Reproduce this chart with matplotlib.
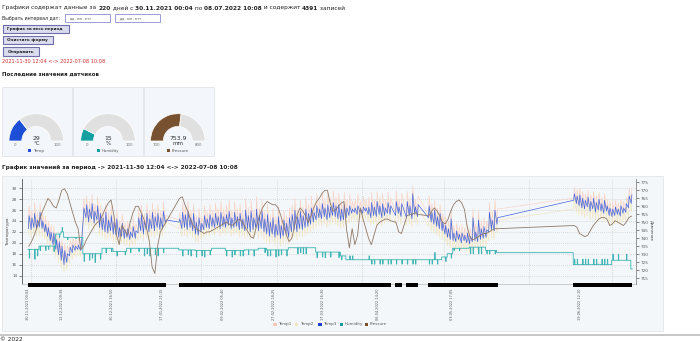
import numpy as np
import matplotlib
matplotlib.use("Agg")
import matplotlib.pyplot as plt
from matplotlib.patches import Rectangle, Wedge
from datetime import datetime

plt.rcParams['font.family'] = ['DejaVu Sans']

# ---------------------------------------------------------------- data
start_time = datetime(2021, 11, 30, 0, 4)
n_days_total = 220
n_records = 4391
first_label = "30.11.2021 00:04"
last_label = "08.07.2022 10:08"
period_label = "2021-11-30 12:04 <-> 2022-07-08 10:08"

# days (offset from the first record) for which readings exist
day_ranges = [(0, 51), (55, 125), (125, 133), (134, 137), (138, 143), (146, 172), (199, 221)]
days = np.concatenate([np.arange(a, b) for a, b in day_ranges]).astype(float)

# Temp3: daily low / high
t3_lo = [22.6,22.4,22.8,22.5,22.9,22.6,22.0,21.2,20.4,19.6,18.8,17.8,16.8,16.0,16.4,17.6,18.2,18.6,18.8,18.6,
         24.2,24.6,23.8,24.4,23.6,24.2,22.8,22.4,22.0,21.8,22.2,21.6,21.4,21.0,21.2,20.8,21.0,20.6,21.0,20.8,
         21.8,22.2,21.6,22.4,22.0,22.6,22.2,22.8,22.4,22.6,23.6,
         23.8,22.6,22.8,22.4,22.8,22.2,21.6,21.4,22.0,22.4, 22.8,22.6,23.0,22.8,23.2,22.6,23.0,22.8,23.2,22.6,
         22.8,23.0,22.4,22.6,22.2,22.6,22.0,22.4,22.8,22.2, 22.6,22.0,21.6,21.2,21.6,21.0,21.4,20.8,21.2,21.6,
         21.0,22.0,22.4,22.0,22.6,22.4,22.8,23.0,23.4,23.8, 24.2,24.6,24.4,24.8,24.2,24.6,25.0,24.8,24.4,24.0,
         24.2,24.6,25.0,25.4,25.6,25.2,25.6,25.4,25.8,25.2,
         24.6,25.0,24.8,25.2,24.6,25.0,25.4,25.2, 25.0,25.4,24.8, 24.6,25.0,24.4,25.2,24.8,
         24.6,23.8,23.4,23.0,22.6,22.2,21.6,21.0,20.6,20.4, 20.2,20.6,20.0,20.4,20.0,19.8,20.2,20.4,20.2,20.6,
         20.8,21.0,22.0,22.4,22.2,23.4,
         27.8,27.2,26.8,26.4,26.2,26.6,25.8,26.2,25.6,26.0, 25.8,25.4,25.8,25.0,24.8,25.0,25.2,24.9,25.4,25.6,
         26.4,27.2]
t3_hi = [25.0,24.6,25.4,24.2,25.6,24.0,23.4,22.8,22.0,21.8,20.6,20.2,19.4,18.6,18.0,19.2,19.6,19.4,19.6,19.2,
         26.4,27.0,26.2,27.2,25.8,26.8,25.4,24.6,25.6,24.2,25.0,23.8,24.4,22.8,23.6,22.4,22.6,22.0,23.0,22.2,
         24.6,25.2,24.0,25.4,24.4,25.6,24.8,25.4,24.6,25.8,24.2,
         24.4,25.6,25.2,25.8,24.6,25.4,23.8,24.6,23.6,25.0, 24.4,25.2,24.6,25.4,24.8,25.6,24.8,25.2,25.8,24.6,
         25.6,24.8,25.4,24.4,26.0,25.0,25.8,24.6,26.2,25.0, 25.8,24.4,25.2,23.8,24.6,23.4,24.8,23.2,24.2,23.6,
         24.6,25.2,26.0,24.8,25.8,25.0,26.2,25.4,26.4,25.6, 26.8,26.2,27.2,26.4,27.0,26.6,27.4,26.8,27.0,26.2,
         27.0,26.4,26.8,26.2,26.4,26.8,26.2,26.6,26.4,26.6,
         27.4,26.6,27.6,26.8,27.2,26.4,27.4,26.8, 27.6,26.6,27.2, 27.6,26.8,29.0,26.6,27.0,
         26.8,25.6,26.0,24.8,25.4,23.8,23.2,22.6,24.4,21.8, 22.2,21.6,21.8,21.4,21.8,21.2,24.6,22.0,24.2,22.6,
         23.0,22.4,25.6,24.2,26.0,24.6,
         29.0,28.6,28.8,28.2,27.8,28.4,27.6,28.2,27.4,28.0, 27.2,27.8,26.8,26.4,26.2,26.6,26.2,26.8,26.4,27.2,
         28.6,28.8]

# Temp1: daily low / high
t1_lo = [23.0,22.9,23.1,23.0,23.2,23.0,22.5,21.6,20.9,20.0,19.3,18.2,17.3,16.5,16.9,18.0,18.7,19.0,19.3,19.0,
         24.6,25.0,24.3,24.8,24.0,24.7,23.2,22.9,22.4,22.3,22.6,22.1,21.8,21.5,21.6,21.3,21.4,21.1,21.4,21.3,
         22.2,22.7,22.0,22.9,22.4,23.0,22.7,23.2,22.9,23.0,24.0,
         24.2,23.0,23.3,22.8,23.2,22.7,22.0,21.9,22.4,22.8, 23.2,23.0,23.5,23.2,23.6,23.0,23.5,23.2,23.6,23.0,
         23.3,23.4,22.8,23.1,22.6,23.0,22.5,22.8,23.3,22.6, 23.0,22.5,22.0,21.7,22.0,21.5,21.8,21.3,21.6,22.1,
         21.4,22.5,22.8,22.5,23.0,22.9,23.2,23.5,23.8,24.3, 24.6,25.1,24.8,25.3,24.6,25.1,25.4,25.3,24.8,24.5,
         24.6,25.1,25.4,25.9,26.0,25.7,26.0,25.9,26.2,25.7,
         25.0,25.4,25.2,25.6,25.0,25.4,25.8,25.6, 25.4,25.8,25.2, 25.0,25.4,24.8,25.6,25.2,
         25.0,24.2,23.8,23.4,23.0,22.6,22.0,21.4,21.0,20.8, 20.6,21.0,20.4,20.8,20.4,20.2,20.6,20.8,20.6,21.0,
         21.2,21.4,22.4,22.8,22.6,23.8,
         28.2,27.6,27.2,26.8,26.6,27.0,26.2,26.6,26.0,26.4, 26.2,25.8,26.2,25.4,25.2,25.4,25.6,25.3,25.8,26.0,
         26.8,27.6]
t1_hi = [26.8,25.9,27.4,25.6,27.2,25.3,24.9,24.0,23.4,23.0,21.9,21.6,20.6,19.8,19.4,20.5,21.0,20.6,21.0,20.4,
         28.2,28.6,27.6,28.9,27.1,28.4,26.9,25.8,27.2,25.5,26.6,25.0,25.9,24.1,25.2,23.6,24.0,23.3,24.6,23.5,
         26.2,27.0,25.4,27.1,25.8,27.3,26.2,27.0,25.9,27.5,25.0,
         25.6,27.4,26.8,27.6,26.0,27.2,25.1,26.3,24.9,26.8, 25.7,27.0,26.0,27.3,26.2,27.6,26.2,27.0,27.8,26.0,
         27.5,26.2,27.2,25.8,28.1,26.5,27.8,26.0,28.4,26.4, 27.9,25.8,27.0,25.1,26.3,24.8,26.6,24.5,25.9,25.0,
         26.4,27.0,28.1,26.3,27.9,26.6,28.4,27.0,28.6,27.2, 28.9,27.7,29.4,27.9,29.2,28.2,29.6,28.4,29.1,27.7,
         29.2,27.9,28.9,27.6,28.0,28.9,27.7,28.5,27.9,28.4,
         29.2,28.0,29.4,28.3,29.0,27.9,29.3,28.2, 29.5,28.0,29.1, 29.4,28.2,30.4,28.0,28.6,
         28.6,27.2,27.8,26.4,27.0,25.3,24.8,24.0,26.0,23.2, 23.6,23.0,23.2,22.8,23.3,22.6,26.2,23.5,25.9,24.1,
         24.6,23.9,27.4,25.8,27.9,26.2,
         30.2,29.8,30.0,29.4,29.0,29.6,28.8,29.4,28.6,29.2, 28.4,29.0,28.0,27.6,27.4,27.8,27.4,28.0,27.6,28.4,
         30.0,30.0]

# Temp2: daily low / high
t2_lo = [21.4,21.0,21.6,21.2,21.3,21.1,20.6,19.8,18.9,18.2,17.4,16.3,15.4,14.6,15.0,16.2,16.9,17.4,17.6,17.5,
         23.0,23.3,22.5,23.0,22.3,22.9,21.4,21.0,20.6,20.5,20.8,20.2,20.0,19.6,19.8,19.5,19.7,19.3,19.6,19.5,
         20.4,20.8,20.3,21.0,20.6,21.1,20.9,21.4,21.0,21.2,22.8,
         22.6,21.2,21.4,21.0,21.5,20.9,20.2,20.0,20.7,21.0, 21.4,21.2,21.7,21.4,21.9,21.2,21.7,21.4,21.9,21.2,
         21.4,21.7,21.0,21.3,20.8,21.2,20.6,21.0,21.5,20.8, 21.2,20.6,20.2,19.8,20.2,19.6,20.0,19.4,19.8,20.2,
         19.6,20.6,21.0,20.6,21.2,21.0,21.4,21.6,22.0,22.4, 22.8,23.2,23.0,23.4,22.8,23.2,23.6,23.4,23.0,22.6,
         22.8,23.2,23.6,24.0,24.2,23.8,24.2,24.0,24.4,23.8,
         23.2,23.5,23.3,23.7,23.1,23.5,23.9,23.7, 23.5,23.9,23.3, 23.1,23.5,22.9,23.7,23.3,
         23.0,22.2,21.8,21.4,21.0,20.6,20.0,19.4,19.0,18.8, 18.6,19.0,18.4,18.8,18.4,18.2,18.6,18.8,18.6,19.0,
         19.2,19.4,20.4,20.8,20.6,21.8,
         26.2,25.6,25.2,24.8,24.6,25.0,24.2,24.6,24.0,24.4, 24.2,23.8,24.2,23.4,23.2,23.4,23.6,23.3,23.8,24.0,
         24.8,25.6]
t2_hi = [24.4,24.1,24.8,23.7,25.0,23.5,22.9,22.3,21.5,21.3,20.1,19.7,18.9,18.1,17.6,18.7,19.1,19.0,19.1,18.8,
         25.8,26.4,25.6,26.6,25.3,26.2,24.8,24.1,25.0,23.7,24.5,23.3,23.8,22.3,23.0,21.9,22.1,21.5,22.4,21.7,
         24.0,24.6,23.5,24.8,23.9,25.0,24.3,24.8,24.1,25.2,23.8,
         23.9,25.1,24.7,25.3,24.1,24.9,23.3,24.1,23.1,24.5, 23.9,24.7,24.1,24.9,24.3,25.1,24.3,24.7,25.3,24.1,
         25.1,24.3,24.9,23.9,25.5,24.5,25.3,24.1,25.7,24.5, 25.3,23.9,24.7,23.3,24.1,22.9,24.3,22.7,23.7,23.1,
         24.1,24.7,25.5,24.3,25.3,24.5,25.7,24.9,25.9,25.1, 26.3,25.7,26.7,25.9,26.5,26.1,26.9,26.3,26.5,25.7,
         26.5,25.9,26.3,25.7,25.9,26.3,25.7,26.1,25.9,26.1,
         26.9,26.1,27.1,26.3,26.7,25.9,26.9,26.3, 27.1,26.1,26.7, 27.1,26.3,28.4,26.1,26.5,
         26.3,25.1,25.5,24.3,24.9,23.3,22.7,22.1,23.9,21.3, 21.7,21.1,21.3,20.9,21.3,20.7,24.1,21.5,23.7,22.1,
         22.5,21.9,25.1,23.7,25.5,24.1,
         28.5,28.1,28.3,27.7,27.3,27.9,27.1,27.7,26.9,27.5, 26.7,27.3,26.3,25.9,25.7,26.1,25.7,26.3,25.9,26.7,
         28.1,28.3]

# Humidity: daily level and the short dropout reading of each day
humidity = ([18.8]*4 + [19.4]*6 + [21.6, 21.6, 22.0] + [21.0]*7 + [18.0]*7 + [19.0]*4 + [18.4]*5
            + [19.0]*5 + [19.0]*10
            + [18.7]*6 + [18.6]*6 + [19.0]*5 + [18.6]*7 + [18.7]*5 + [19.0]*3 + [18.7]*8 + [19.1]*10
            + [18.3]*9 + [17.6, 17.6, 16.9, 16.9] + [16.9]*7
            + [16.9]*16
            + [16.9]*5 + [17.4, 17.4, 18.0, 18.0] + [19.0]*6 + [19.2]*6 + [18.6, 18.6, 18.6, 18.6, 18.2]
            + [16.0]*14 + [16.8]*6 + [16.8, 15.2])
humidity_dip = [17.2,18.8,17.0,17.6, 18.6,19.4,18.6,18.8,19.4,18.4, 21.6,21.0,22.8,
                21.0,20.6,21.0,21.0,20.8,21.0,21.0, 16.6,18.0,16.8,17.2,16.4,18.0,17.0,
                19.0,18.2,19.0,18.4, 18.4,17.6,18.4,18.4,17.8, 19.0,18.2,19.0,19.0,18.4,
                19.0,17.6,18.0,17.6,19.0,17.8,17.6,19.0,18.2,19.0,
                18.7,17.6,18.7,17.8,17.6,18.7, 17.4,18.6,17.6,17.4,18.6,17.8, 19.0,19.0,19.0,19.0,19.0,
                17.6,18.6,17.4,17.8,18.6,17.6,17.6, 18.7,17.8,18.7,17.6,18.7, 19.0,19.0,18.2,
                17.6,17.6,18.7,17.4,17.6,17.8,18.7,17.6, 19.1,19.1,19.1,18.0,18.2,18.0,18.0,19.1,19.1,19.1,
                17.3,18.3,17.4,17.3,18.3,17.4,18.3,18.3,17.3, 16.9,17.6,16.9,17.6,
                17.6,16.9,16.9,16.9,16.9,16.9,17.6,
                16.1,16.1,16.9,16.1,16.1,16.9,16.1,16.1, 16.1,16.9,16.1, 16.1,16.9,16.1,16.1,16.9,
                16.1,16.1,18.2,16.1,16.9, 17.4,16.6,18.0,17.2, 18.6,19.0,18.6,19.0,19.0,19.0,
                18.0,18.0,19.2,18.0,18.0,19.2, 18.0,18.0,18.6,18.0,18.2,
                17.0,17.0,16.0,17.0,17.0,17.0,16.0,17.0,17.0,16.0,17.0,17.0,17.0,16.0,
                17.9,16.8,17.9,16.8,16.8,17.9, 16.8,15.2]

# Pressure, mm Hg (right axis)
pressure = [735,738,742,747,752,757,761,765,763,760,759,764,770,771,768,762,756,750,746,733,
            735,739,742,745,748,750,751,755,759,762,764,755,742,736,748,745,742,750,756,760,
            760,756,752,746,738,722,718,735,744,747,750,
            765,766,761,757,752,748,746,745,744,743, 744,744,745,746,747,748,749,750,749,748,
            749,751,752,750,747,744,741,740,747,753, 758,761,763,762,761,761,759,754,748,742,
            738,740,748,755,759,757,754,750,754,759, 763,765,768,770,770,762,757,758,760,762,
            763,745,734,746,736,742,759,752,746,740,
            736,742,748,750,751,752,752,751, 750,744,743, 754,755,755,756,755,
            754,757,759,757,754,750,749,752,757,761, 763,764,762,758,747,741,739,740,741,742,
            743,743,744,745,746,746,
            748,747,743,742,741,742,745,748,750,752, 753,753,752,748,749,751,750,749,748,750,
            753,753.9]

tick_labels = ["30.11.2021 00:04", "12.12.2021 09:38", "30.12.2021 16:50", "17.01.2022 21:15",
               "09.02.2022 05:40", "27.02.2022 18:25", "17.03.2022 16:30", "06.04.2022 14:20",
               "03.05.2022 17:05", "19.06.2022 12:10"]

series_names = ["Temp1", "Temp2", "Temp3", "Humidity", "Pressure"]
series_colors = ["#f7d4c6", "#f1e6c4", "#4664de", "#3cb4b4", "#8f7866"]
legend_colors = ["#f4c7b6", "#efe5bf", "#1f3fcf", "#119a9a", "#7a5028"]

gauge_names = ["Temp", "Humidity", "Pressure"]
gauge_values = [29, 15, 753.9]
gauge_min = [0, 0, 700]
gauge_max = [100, 100, 800]
gauge_units = ["°C", "%", "mm"]
gauge_colors = ["#1c4fd6", "#14a0a0", "#775130"]

# ---------------------------------------------------------------- page
W, H = 700, 341
fig = plt.figure(figsize=(W / 100, H / 100), dpi=100)
fig.patch.set_facecolor("white")
page = fig.add_axes([0, 0, 1, 1])
page.set_xlim(0, W)
page.set_ylim(H, 0)
page.axis("off")
renderer = fig.canvas.get_renderer()
TXT = "#222222"


def text_run(x, y, parts, width, color=TXT, base=5.0):
    """Draw consecutive (text, weight) pieces on one line, scaled to a pixel width."""
    def draw(size):
        cx, made = x, []
        for s, w in parts:
            t = page.text(cx, y, s, fontsize=size, fontweight=w, color=color,
                          ha="left", va="center")
            cx += t.get_window_extent(renderer).width
            made.append(t)
        return made, cx - x
    made, w = draw(base)
    for t in made:
        t.remove()
    draw(base * width / w)


text_run(2.5, 8, [("Графики содержат данные за ", "normal"), (str(n_days_total), "bold"),
                  (" дней с ", "normal"), (first_label, "bold"), (" по ", "normal"),
                  (last_label, "bold"), (" и содержит ", "normal"), (str(n_records), "bold"),
                  (" записей", "normal")], 342)

text_run(2.5, 18.5, [("Выбрать интервал дат:", "normal")], 59)
for bx in (65, 115):
    page.add_patch(Rectangle((bx, 14.2), 44.5, 7.8, facecolor="white", edgecolor="#9c9cd6", lw=0.7))
    text_run(bx + 5, 18.3, [("дд . мм . гггг", "normal")], 21, color="#444444")

buttons = [("График за весь период", 25.0, 66.6, 56.5),
           ("Очистить форму", 36.0, 50.6, 41.0),
           ("Отправить", 47.3, 36.6, 27.0)]
for label, by, bw, tw in buttons:
    page.add_patch(Rectangle((2.7, by), bw, 8.4, facecolor="#dcdcef", edgecolor="#6e6eaa", lw=0.8))
    text_run(7.3, by + 4.3, [(label, "bold")], tw)

text_run(2.5, 61.7, [(period_label, "normal")], 105.5, color="#cc2b2b")
text_run(2.5, 74.0, [("Последние значения датчиков", "bold")], 97.5)

# ---------------------------------------------------------------- gauges
panel_x = [1.5, 72.5, 143.5]
gauge_cx = [36.3, 108.0, 177.8]
gauge_cy = 141.0
r_out, ring = 27.3, 12.8
for i in range(3):
    page.add_patch(Rectangle((panel_x[i], 87), 70, 69, facecolor="#f3f6fa",
                             edgecolor="#e1e4e9", lw=0.6))
    frac = (gauge_values[i] - gauge_min[i]) / (gauge_max[i] - gauge_min[i])
    split = 180 + 180 * frac
    cx = gauge_cx[i]
    page.add_patch(Wedge((cx, gauge_cy), r_out, 180, split, width=ring,
                         facecolor=gauge_colors[i], edgecolor="white", lw=0.5))
    page.add_patch(Wedge((cx, gauge_cy), r_out, split, 360, width=ring,
                         facecolor="#e0e0e0", edgecolor="white", lw=0.5))
    mid = r_out - ring / 2
    page.text(cx - mid, 145.3, str(gauge_min[i]), fontsize=2.8, color="#777777",
              ha="center", va="center")
    page.text(cx + mid, 145.3, str(gauge_max[i]), fontsize=2.8, color="#777777",
              ha="center", va="center")
    vtxt = f"{gauge_values[i]:g}"
    page.text(cx, 138.6, vtxt, fontsize=4.4, color="#333333", ha="center", va="center")
    page.text(cx, 143.4, gauge_units[i], fontsize=4.0, color="#333333", ha="center", va="center")
    lw_txt = {"Temp": 11, "Humidity": 17, "Pressure": 17}[gauge_names[i]]
    sx = cx - (lw_txt + 5) / 2
    page.add_patch(Rectangle((sx, 149.2), 3.2, 3.2, facecolor=gauge_colors[i], edgecolor="none"))
    text_run(sx + 4.6, 150.9, [(gauge_names[i], "normal")], lw_txt, color="#555555")

text_run(2.5, 167.3, [("График значений за период -> " + period_label, "bold")], 240)

# chart panel
page.add_patch(Rectangle((2, 176), 661, 155, facecolor="#f4f7fa", edgecolor="#e3e6ea", lw=0.6))

# footer
page.plot([0, W], [335.3, 335.3], color="#bdbdbd", lw=1.2)
page.text(0.5, 337.2, "© 2022", fontsize=4.2, color=TXT, ha="left", va="top")

# ---------------------------------------------------------------- main chart
ax = fig.add_axes([22 / W, (H - 284) / H, 614 / W, 105 / H])
ax.patch.set_alpha(0)
ax2 = ax.twinx()


def to_day(dt):
    return (dt - start_time).total_seconds() / 86400.0


x_pair = np.column_stack([days + 0.15, days + 0.40]).ravel()


def zig(lo, hi):
    return np.column_stack([lo, hi]).ravel()


ax.plot(x_pair, zig(t1_lo, t1_hi), color=series_colors[0], lw=0.5, zorder=3)
ax.plot(x_pair, zig(t2_lo, t2_hi), color=series_colors[1], lw=0.5, zorder=3)
ax.plot(x_pair, zig(t3_lo, t3_hi), color=series_colors[2], lw=0.5, zorder=4)

x_hum = np.column_stack([days, days + 0.45, days + 0.6]).ravel()
y_hum = np.column_stack([humidity, humidity_dip, humidity]).ravel()
ax.plot(x_hum, y_hum, color=series_colors[3], lw=0.6, drawstyle="steps-post", zorder=5)

ax2.plot(days + 0.3, pressure, color=series_colors[4], lw=0.6, zorder=6)

ax.set_xlim(to_day(start_time) - 2.19, 221.9)
ax.set_ylim(12.45, 31.7)
ax2.set_ylim(711.4, 777.1)

# grid
for v in range(14, 31, 2):
    ax.axhline(v, color="#c9c9c9", lw=0.5, ls=(0, (1.2, 1.6)), zorder=1)
month_starts = [datetime(2021, 12, 1)] + [datetime(2022, m, 1) for m in range(1, 8)]
for m in month_starts:
    ax.axvline(to_day(m), color="#c9c9c9", lw=0.5, ls=(0, (1.2, 1.6)), zorder=1)

# dense record ticks along the time axis
gap_idx = np.where(np.diff(days) > 1.5)[0]
seg_start = np.r_[days[0], days[gap_idx + 1]]
seg_end = np.r_[days[gap_idx], days[-1]] + 0.42
trans = ax.get_xaxis_transform()
for s, e in zip(seg_start, seg_end):
    ax.add_patch(Rectangle((s, -0.03), e - s, 0.036, transform=trans, facecolor="black",
                           edgecolor="none", clip_on=False, zorder=7))

tick_pos = [to_day(datetime.strptime(s, "%d.%m.%Y %H:%M")) for s in tick_labels]
ax.set_xticks(tick_pos)
ax.set_xticklabels(tick_labels, rotation=90, fontsize=2.5, color="#555555")
ax.tick_params(axis="x", length=0, pad=3.0)

ax.set_yticks(range(14, 31, 2))
ax.tick_params(axis="y", labelsize=3, colors="#555555", length=2, width=0.5, pad=1.5)
ax2.set_yticks(range(715, 776, 5))
ax2.tick_params(axis="y", labelsize=3, colors="#555555", length=2, width=0.5, pad=1.5)

for sp in ("top", "right"):
    ax.spines[sp].set_visible(False)
ax.spines["left"].set_color("#555555")
ax.spines["left"].set_linewidth(0.6)
ax.spines["bottom"].set_color("#c4c4c4")
ax.spines["bottom"].set_linewidth(0.6)
for sp in ("top", "left", "bottom"):
    ax2.spines[sp].set_visible(False)
ax2.spines["right"].set_color("#888888")
ax2.spines["right"].set_linewidth(0.6)

page.text(8.0, 232, "Температура", fontsize=3.0, color="#444444", rotation=90,
          ha="center", va="center")
page.text(651.5, 231, "Давление", fontsize=3.0, color="#444444", rotation=-90,
          ha="center", va="center")

# legend
leg_x = [275.0, 296.7, 320.0, 341.7, 366.7]
for name, col, lx in zip(series_names, legend_colors, leg_x):
    page.add_patch(Rectangle((lx - 1.6, 322.8), 3.2, 3.2, facecolor=col, edgecolor="none"))
    page.text(lx + 3.0, 324.4, name, fontsize=2.9, color="#555555", ha="left", va="center")

fig.savefig("out.png", dpi=100)
